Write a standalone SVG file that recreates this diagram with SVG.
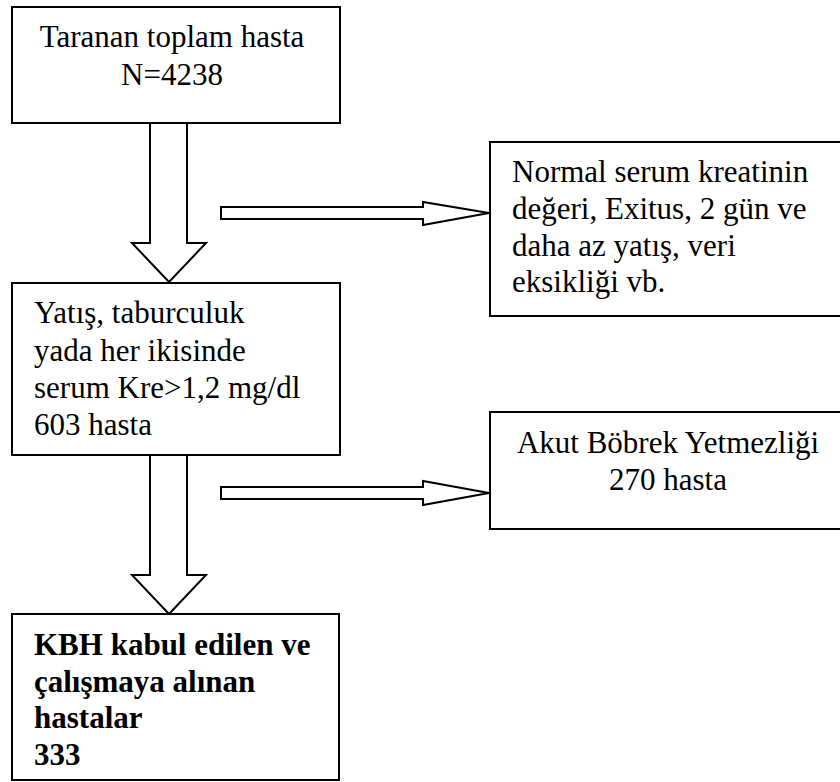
<svg xmlns="http://www.w3.org/2000/svg" width="840" height="782" viewBox="0 0 840 782">
<style>
.box{fill:#fff;stroke:#000;stroke-width:2}
.arr{fill:#fff;stroke:#000;stroke-width:2;stroke-linejoin:miter}
text{font-family:'Liberation Serif','Times New Roman',serif;font-size:31px;fill:#000}
.b{font-weight:bold}
</style>
<rect width="840" height="782" fill="#fff"/>
<g id="connectors">
<polygon class="arr" points="150,123 187,123 187,243 206,243 169,282 132,243 150,243"/>
<polygon class="arr" points="150,455 187,455 187,575 206,575 169,614 132,575 150,575"/>
<polygon class="arr" points="221,207 423,207 423,202 489,213 423,225 423,219 221,219"/>
<polygon class="arr" points="221,487 423,487 423,481 489,493 423,505 423,499 221,499"/>
</g>
<g id="n1">
<rect class="box" x="12" y="7" width="328" height="116"/>
<text text-anchor="middle" x="172" y="47">Taranan toplam hasta</text>
<text text-anchor="middle" x="172" y="85">N=4238</text>
</g>
<g id="n2">
<rect class="box" x="12" y="283" width="328" height="172"/>
<text x="34" y="323">Yatış, taburculuk</text>
<text x="34" y="361">yada her ikisinde</text>
<text x="34" y="398">serum Kre&gt;1,2 mg/dl</text>
<text x="34" y="435">603 hasta</text>
</g>
<g id="n3">
<rect class="box" x="12" y="614" width="327" height="166"/>
<text class="b" x="34" y="655">KBH kabul edilen ve</text>
<text class="b" x="34" y="692">çalışmaya alınan</text>
<text class="b" x="34" y="728">hastalar</text>
<text class="b" x="34" y="765">333</text>
</g>
<g id="n4">
<rect class="box" x="490" y="142" width="360" height="174"/>
<text x="512" y="182">Normal serum kreatinin</text>
<text x="512" y="219">değeri, Exitus, 2 gün ve</text>
<text x="512" y="256">daha az yatış, veri</text>
<text x="512" y="292">eksikliği vb.</text>
</g>
<g id="n5">
<rect class="box" x="490" y="412" width="360" height="117"/>
<text text-anchor="middle" x="668" y="453">Akut Böbrek Yetmezliği</text>
<text text-anchor="middle" x="668" y="490">270 hasta</text>
</g>
</svg>
